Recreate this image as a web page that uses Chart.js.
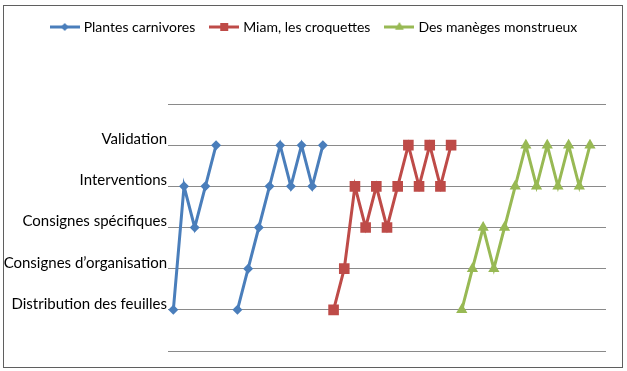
<!DOCTYPE html>
<html>
<head>
<meta charset="utf-8">
<script src="https://cdn.jsdelivr.net/npm/chart.js@4/dist/chart.umd.min.js"></script>
<style>
  html, body { margin: 0; padding: 0; background: #fff; }
  #wrap { position: relative; width: 627px; height: 371px; }
  #frame { position: absolute; left: 3px; top: 5px; width: 618px; height: 361px; border: 1px solid #5f5f5f; pointer-events: none; }
  canvas { position: absolute; left: 0; top: 0; }
</style>
</head>
<body>
<div id="wrap">
  <canvas id="chart" width="627" height="371"></canvas>
  <div id="frame"></div>
</div>
<script>
// étapes de la séance (axe vertical), 0 et 6 restent vides
const levels = ["", "Distribution des feuilles", "Consignes d’organisation", "Consignes spécifiques", "Interventions", "Validation", ""];

// 41 positions sur l'axe horizontal (non étiquetées)
const steps = [1, 2, 3, 4, 5, 6, 7, 8, 9, 10, 11, 12, 13, 14, 15, 16, 17, 18, 19, 20,
  21, 22, 23, 24, 25, 26, 27, 28, 29, 30, 31, 32, 33, 34, 35, 36, 37, 38, 39, 40, 41];

const plantes = [1, 4, 3, 4, 5, null, 1, 2, 3, 4, 5, 4, 5, 4, 5,
  null, null, null, null, null, null, null, null, null, null, null, null, null,
  null, null, null, null, null, null, null, null, null, null, null, null, null];

const croquettes = [null, null, null, null, null, null, null, null, null, null, null, null, null, null, null,
  1, 2, 4, 3, 4, 3, 4, 5, 4, 5, 4, 5,
  null, null, null, null, null, null, null, null, null, null, null, null, null, null];

const maneges = [null, null, null, null, null, null, null, null, null, null, null, null, null, null, null,
  null, null, null, null, null, null, null, null, null, null, null, null,
  1, 2, 3, 2, 3, 4, 5, 4, 5, 4, 5, 4, 5, null];

const seriesNames = ["Plantes carnivores", "Miam, les croquettes", "Des manèges monstrueux"];
const colors = ["#4A7EBB", "#BE4B48", "#98B954"];
const markers = ["rectRot", "rect", "triangle"];
const radii = [5, 7.5, 6.5];

// petite image "trait + marqueur" pour la légende
function legendIcon(color, style, r) {
  const c = document.createElement("canvas");
  c.width = 30; c.height = 14;
  const ctx = c.getContext("2d");
  ctx.strokeStyle = color;
  ctx.lineWidth = 3;
  ctx.beginPath(); ctx.moveTo(0, 7); ctx.lineTo(30, 7); ctx.stroke();
  ctx.fillStyle = color;
  Chart.helpers.drawPoint(ctx, { pointStyle: style, radius: r * 0.75, rotation: 0, borderWidth: 0 }, 15, 7);
  ctx.fill();
  return c;
}

// la légende occupe tout l'espace au-dessus de la zone de tracé,
// et elle est centrée sur tout le cadre (pas seulement sur la zone de tracé)
const legendHeight = {
  id: "legendHeight",
  afterInit(chart) {
    const lg = chart.legend;
    if (!lg) return;
    const fit = lg.fit;
    lg.fit = function () { fit.call(this); this.height = 101; };
  },
  afterLayout(chart) {
    const lg = chart.legend;
    if (!lg) return;
    lg.left += 12;
    lg.right += 12;
  },
};

const font = "Lato, 'Open Sans', sans-serif";
const allData = [plantes, croquettes, maneges];

const datasets = allData.map((d, i) => ({
  label: seriesNames[i],
  data: d,
  borderColor: colors[i],
  backgroundColor: colors[i],
  borderWidth: 3,
  pointStyle: markers[i],
  pointRadius: radii[i],
  pointBorderWidth: 0,
  pointHoverRadius: radii[i],
  tension: 0,
  spanGaps: false,
}));

new Chart(document.getElementById("chart"), {
  type: "line",
  data: { labels: steps, datasets },
  plugins: [legendHeight],
  options: {
    responsive: false,
    animation: false,
    layout: { padding: { left: 0, right: 21, top: 3, bottom: 20 } },
    plugins: {
      tooltip: { enabled: false },
      legend: {
        position: "top",
        labels: {
          usePointStyle: true,
          pointStyleWidth: 24,
          padding: 17,
          color: "#000",
          font: { family: font, size: 14 },
          generateLabels: (chart) => chart.data.datasets.map((ds, i) => ({
            text: ds.label,
            pointStyle: legendIcon(colors[i], markers[i], radii[i]),
            fillStyle: colors[i],
            strokeStyle: colors[i],
            lineWidth: 0,
            hidden: false,
            datasetIndex: i,
            fontColor: "#000",
          })),
        },
      },
    },
    scales: {
      x: {
        type: "category",
        display: false,
        offset: true,
      },
      y: {
        min: 0,
        max: 6,
        border: { display: false },
        grid: { color: "#8a8a8a", lineWidth: 1, drawTicks: false },
        ticks: {
          stepSize: 1,
          padding: 1,
          labelOffset: -6,
          color: "#000",
          font: { family: font, size: 15 },
          callback: (v) => levels[v] || "",
        },
        afterFit: (scale) => { scale.width = 168; },
      },
    },
  },
});
</script>
</body>
</html>
